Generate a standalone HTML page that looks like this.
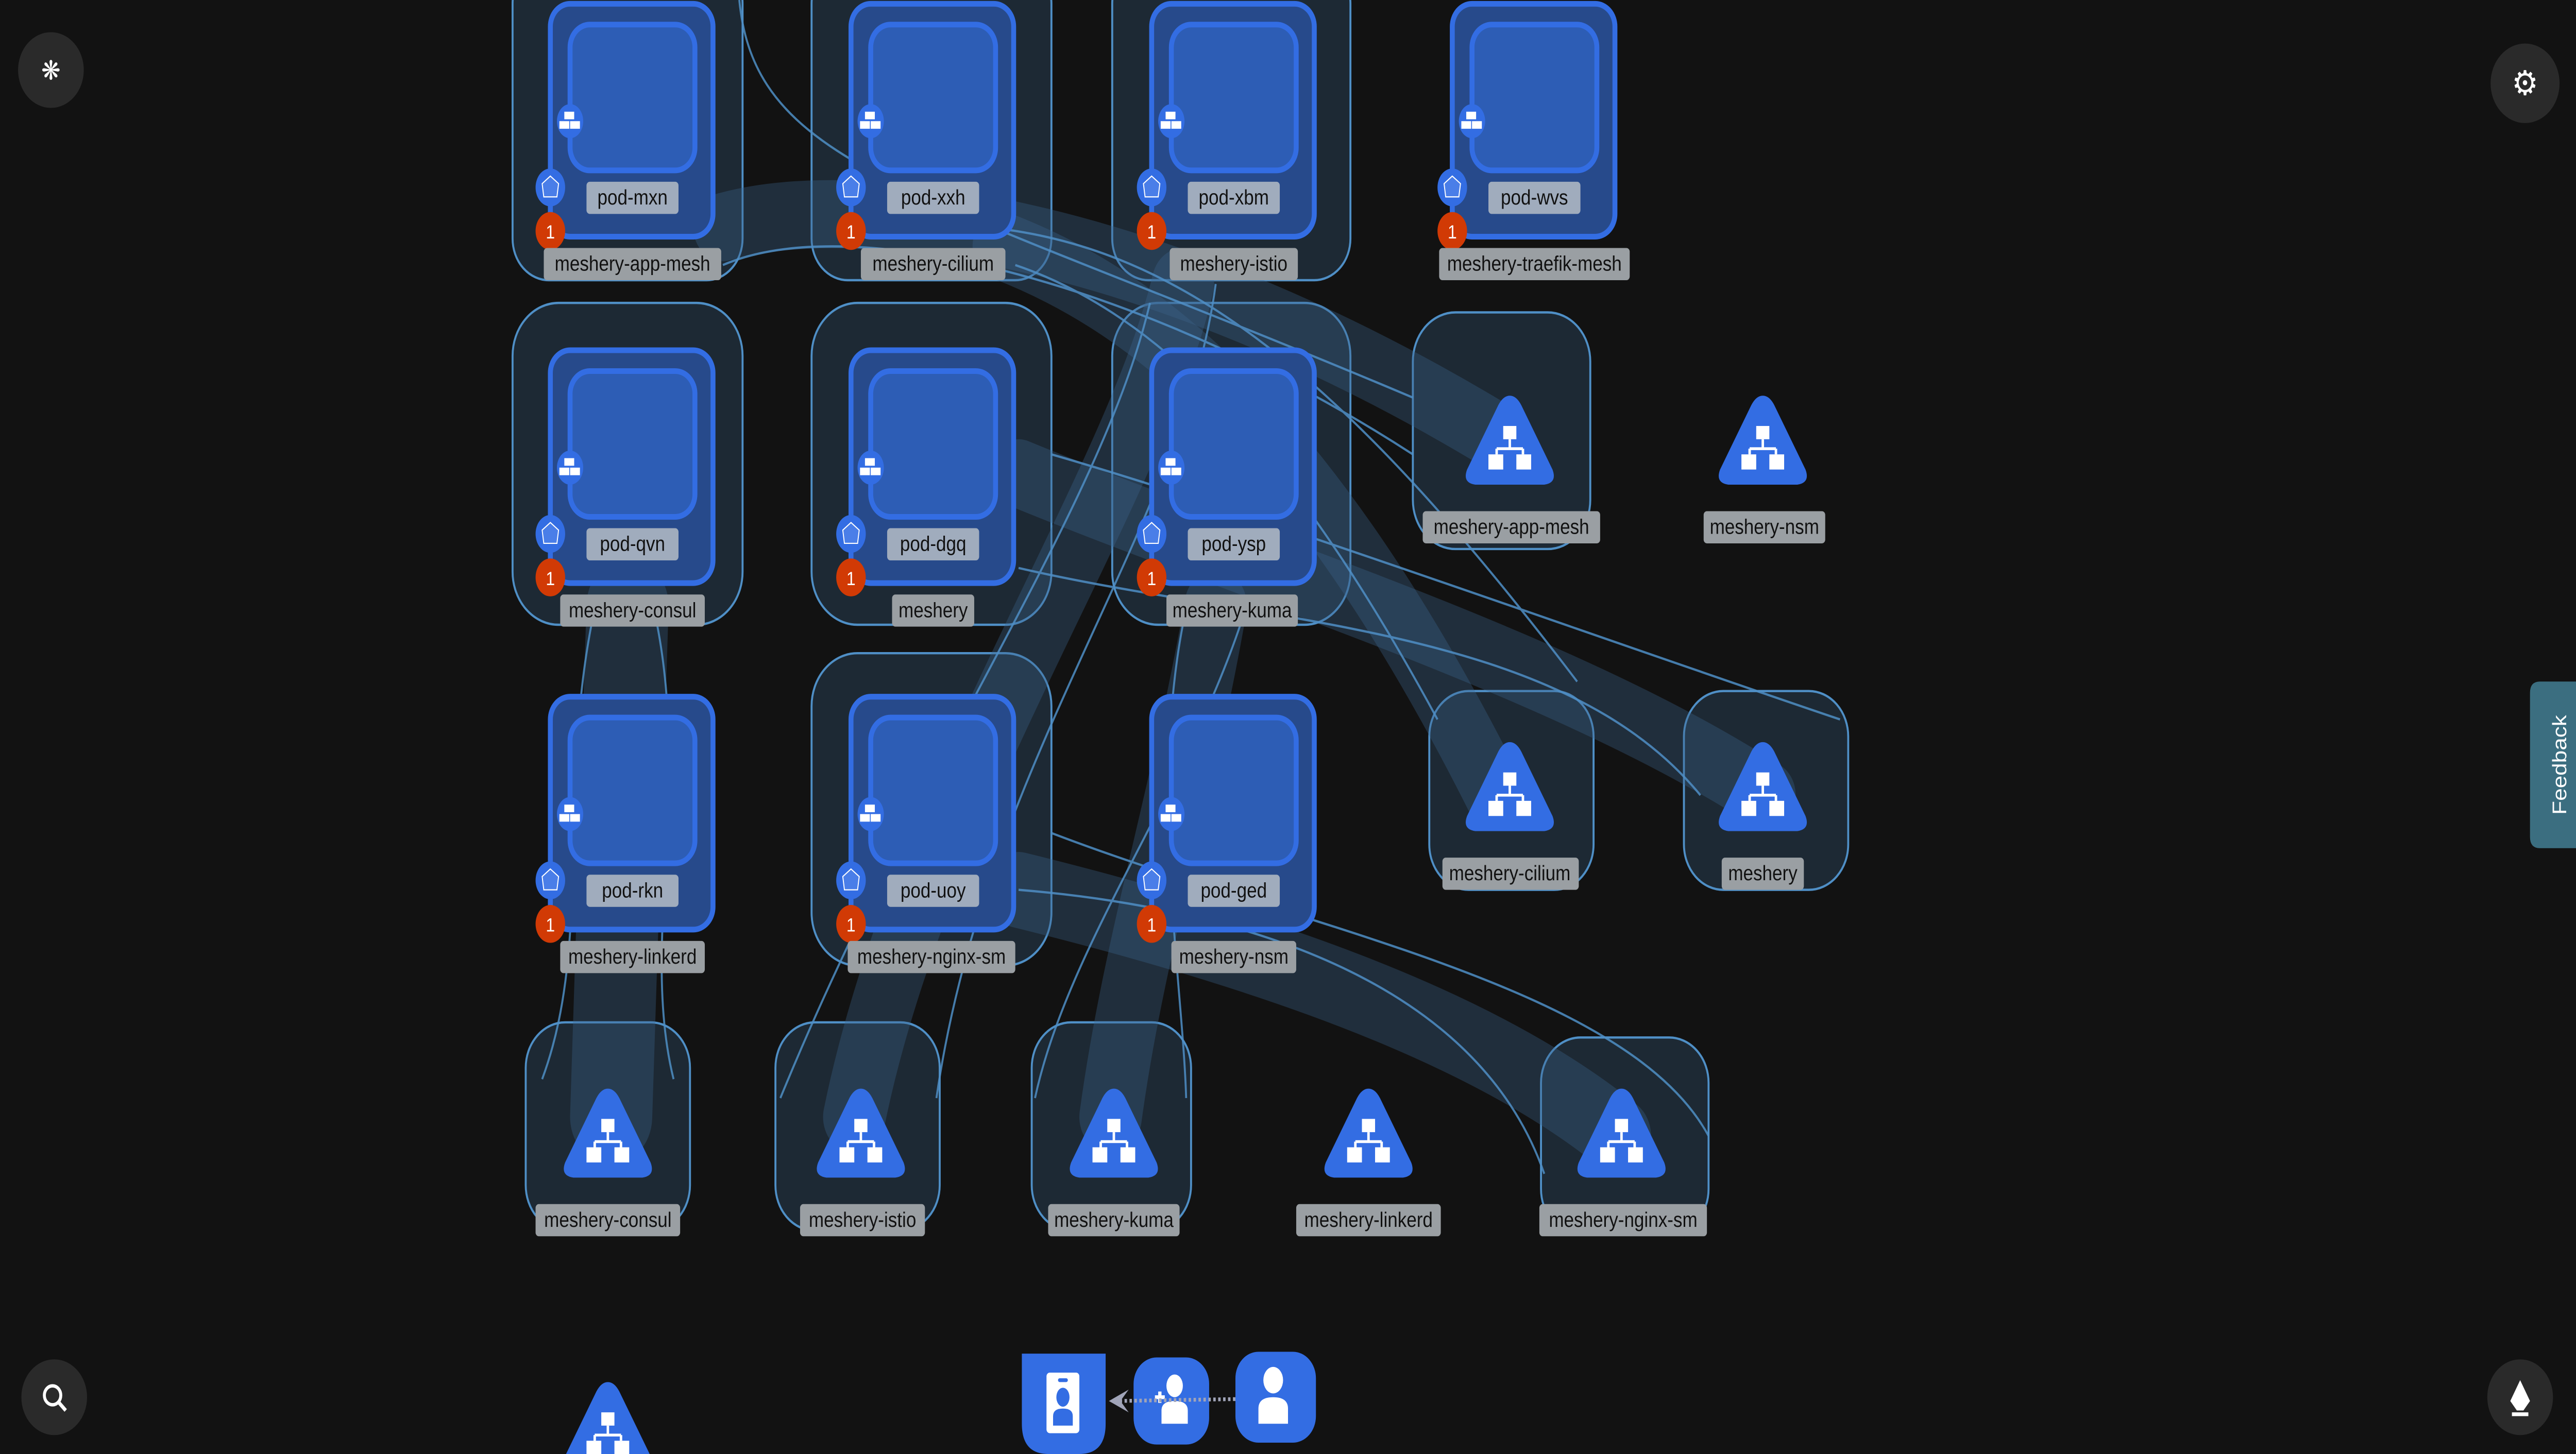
<!DOCTYPE html>
<html><head><meta charset="utf-8"><style>
html,body{margin:0;padding:0;background:#121212;overflow:hidden;width:100%;height:100%}
svg{display:block;position:fixed;left:0;top:0;width:100vw;height:100vh}
text{font-family:"Liberation Sans",sans-serif}
</style></head><body>
<svg viewBox="0 0 1568 768" preserveAspectRatio="none" xmlns="http://www.w3.org/2000/svg">
<defs>
<g id="pod">
  <rect x="0" y="0" width="99" height="123" rx="12" fill="#274a8b" stroke="#336de3" stroke-width="3"/>
  <rect x="12" y="11" width="76" height="77" rx="12" fill="#2d5db5" stroke="#336de3" stroke-width="3"/>
  <ellipse cx="12" cy="62" rx="8" ry="9" fill="#336de3"/>
  <rect x="8.5" y="57" width="6" height="4" fill="#fff"/><rect x="5.5" y="62" width="6" height="4" fill="#fff"/><rect x="12" y="62" width="6" height="4" fill="#fff"/>
  <ellipse cx="0" cy="97" rx="9" ry="10" fill="#336de3"/>
  <path d="M0 91 L5 95 L4 102 L-4 102 L-5 95 Z" fill="#4a7ee8" stroke="#fff" stroke-width="0.6"/>
  <ellipse cx="0" cy="120" rx="9" ry="10" fill="#d13a05"/>
  <text x="0" y="124" font-size="10" fill="#fff" text-anchor="middle">1</text>
</g>
<g id="svc">
  <path d="M0 -26 Q4 -26 7 -21 L26 13 Q29 20 21 21 L-21 21 Q-29 20 -26 13 L-7 -21 Q-4 -26 0 -26 Z" fill="#336de3"/>
  <rect x="-4" y="-10" width="8" height="7" fill="#fff"/>
  <path d="M0 -3 V2 M-8 2 H8 M-8 2 V5 M8 2 V5" stroke="#fff" stroke-width="1.5" fill="none"/>
  <rect x="-13" y="5" width="9" height="8" fill="#fff"/><rect x="4" y="5" width="9" height="8" fill="#fff"/>
</g>
</defs>
<rect width="1568" height="768" fill="#121212"/>
<g fill="rgba(44,70,96,0.45)" stroke="#4f8fc6" stroke-width="1.2">
  <rect x="312" y="-20" width="140" height="168" rx="22"/>
  <rect x="494" y="-20" width="146" height="168" rx="22"/>
  <rect x="677" y="-20" width="145" height="168" rx="22"/>
  <rect x="312" y="160" width="140" height="170" rx="28"/>
  <rect x="494" y="160" width="146" height="170" rx="28"/>
  <rect x="677" y="160" width="145" height="170" rx="28"/>
  <rect x="494" y="345" width="146" height="165" rx="28"/>
  <rect x="320" y="540" width="100" height="110" rx="24"/>
  <rect x="472" y="540" width="100" height="110" rx="24"/>
  <rect x="628" y="540" width="97" height="110" rx="24"/>
  <rect x="938" y="548" width="102" height="104" rx="24"/>
  <rect x="860" y="165" width="108" height="125" rx="26"/>
  <rect x="870" y="365" width="100" height="105" rx="24"/>
  <rect x="1025" y="365" width="100" height="105" rx="24"/>
</g>
<g fill="none" stroke="rgba(60,100,140,0.35)" stroke-linecap="round">
  <path d="M382 320 L372 590" stroke-width="50"/>
  <path d="M720 150 C690 260 560 420 520 590" stroke-width="38"/>
  <path d="M740 320 C720 420 690 500 676 590" stroke-width="38"/>
  <path d="M620 470 C760 500 900 540 985 600" stroke-width="40"/>
  <path d="M610 130 C700 160 800 230 910 420" stroke-width="36"/>
  <path d="M620 250 C760 300 950 350 1075 420" stroke-width="36"/>
  <path d="M440 120 C520 100 700 120 910 230" stroke-width="36"/>
</g>
<g fill="none" stroke="#4f8fc6" stroke-width="1.2" opacity="0.85">
  <path d="M440 140 C520 110 700 150 860 240"/>
  <path d="M450 0 C460 90 560 100 860 210"/>
  <path d="M618 140 C720 170 800 260 875 380"/>
  <path d="M600 120 C720 130 820 200 960 360"/>
  <path d="M620 300 C770 330 950 330 1035 420"/>
  <path d="M640 240 C760 270 950 330 1120 380"/>
  <path d="M700 160 C670 270 560 400 475 580"/>
  <path d="M740 150 C720 280 600 400 570 580"/>
  <path d="M755 330 C720 420 650 500 630 580"/>
  <path d="M720 330 C700 420 720 520 722 580"/>
  <path d="M620 470 C760 480 900 520 940 620"/>
  <path d="M640 440 C790 490 990 520 1040 600"/>
  <path d="M360 330 C340 420 360 500 330 570"/>
  <path d="M400 330 C420 420 390 500 410 570"/>
</g>
<use href="#pod" x="335" y="2"/><use href="#pod" x="518" y="2"/><use href="#pod" x="701" y="2"/><use href="#pod" x="884" y="2"/>
<use href="#pod" x="335" y="185"/><use href="#pod" x="518" y="185"/><use href="#pod" x="701" y="185"/>
<use href="#pod" x="335" y="368"/><use href="#pod" x="518" y="368"/><use href="#pod" x="701" y="368"/>
<use href="#svc" x="919" y="235"/><use href="#svc" x="1073" y="235"/>
<use href="#svc" x="919" y="418"/><use href="#svc" x="1073" y="418"/>
<use href="#svc" x="370" y="601"/><use href="#svc" x="524" y="601"/><use href="#svc" x="678" y="601"/><use href="#svc" x="833" y="601"/><use href="#svc" x="987" y="601"/>
<use href="#svc" x="370" y="756"/>
<g font-size="11" text-anchor="middle" fill="#111">
  <g fill="#a0acbd">
    <rect x="357" y="96" width="56" height="17" rx="2"/><rect x="540" y="96" width="56" height="17" rx="2"/><rect x="723" y="96" width="56" height="17" rx="2"/><rect x="906" y="96" width="56" height="17" rx="2"/>
    <rect x="357" y="279" width="56" height="17" rx="2"/><rect x="540" y="279" width="56" height="17" rx="2"/><rect x="723" y="279" width="56" height="17" rx="2"/>
    <rect x="357" y="462" width="56" height="17" rx="2"/><rect x="540" y="462" width="56" height="17" rx="2"/><rect x="723" y="462" width="56" height="17" rx="2"/>
  </g>
  <text x="385" y="108">pod-mxn</text><text x="568" y="108">pod-xxh</text><text x="751" y="108">pod-xbm</text><text x="934" y="108">pod-wvs</text>
  <text x="385" y="291">pod-qvn</text><text x="568" y="291">pod-dgq</text><text x="751" y="291">pod-ysp</text>
  <text x="385" y="474">pod-rkn</text><text x="568" y="474">pod-uoy</text><text x="751" y="474">pod-ged</text>
  <g fill="#9a9fa3">
    <rect x="331" y="131" width="108" height="17" rx="2"/><rect x="524" y="131" width="88" height="17" rx="2"/><rect x="712" y="131" width="78" height="17" rx="2"/><rect x="876" y="131" width="116" height="17" rx="2"/>
    <rect x="341" y="314" width="88" height="17" rx="2"/><rect x="543" y="314" width="50" height="17" rx="2"/><rect x="710" y="314" width="80" height="17" rx="2"/>
    <rect x="341" y="497" width="88" height="17" rx="2"/><rect x="516" y="497" width="102" height="17" rx="2"/><rect x="713" y="497" width="76" height="17" rx="2"/>
    <rect x="866" y="270" width="108" height="17" rx="2"/><rect x="1037" y="270" width="74" height="17" rx="2"/>
    <rect x="878" y="453" width="83" height="17" rx="2"/><rect x="1048" y="453" width="50" height="17" rx="2"/>
    <rect x="326" y="636" width="88" height="17" rx="2"/><rect x="487" y="636" width="76" height="17" rx="2"/><rect x="638" y="636" width="80" height="17" rx="2"/><rect x="789" y="636" width="88" height="17" rx="2"/><rect x="937" y="636" width="102" height="17" rx="2"/>
  </g>
  <text x="385" y="143">meshery-app-mesh</text><text x="568" y="143">meshery-cilium</text><text x="751" y="143">meshery-istio</text><text x="934" y="143">meshery-traefik-mesh</text>
  <text x="385" y="326">meshery-consul</text><text x="568" y="326">meshery</text><text x="750" y="326">meshery-kuma</text>
  <text x="385" y="509">meshery-linkerd</text><text x="567" y="509">meshery-nginx-sm</text><text x="751" y="509">meshery-nsm</text>
  <text x="920" y="282">meshery-app-mesh</text><text x="1074" y="282">meshery-nsm</text>
  <text x="919" y="465">meshery-cilium</text><text x="1073" y="465">meshery</text>
  <text x="370" y="648">meshery-consul</text><text x="525" y="648">meshery-istio</text><text x="678" y="648">meshery-kuma</text><text x="833" y="648">meshery-linkerd</text><text x="988" y="648">meshery-nginx-sm</text>
</g>
<path d="M622 715 H673 V752 Q673 768 657 768 H638 Q622 768 622 752 Z" fill="#336de3"/>
<rect x="637" y="725" width="20" height="32" rx="2" fill="#fff"/>
<rect x="644" y="728" width="6" height="2" rx="1" fill="#336de3"/>
<ellipse cx="647" cy="738" rx="4" ry="5" fill="#336de3"/>
<path d="M641 753 V748 Q641 744 647 744 Q653 744 653 748 V753 Z" fill="#336de3"/>
<rect x="690" y="717" width="46" height="46" rx="14" fill="#336de3"/>
<rect x="752" y="714" width="49" height="48" rx="14" fill="#336de3"/>
<g fill="#fff">
  <ellipse cx="715" cy="732" rx="5" ry="6"/><path d="M707 752 V745 Q707 740 715 740 Q723 740 723 745 V752 Z"/>
  <rect x="703" y="737" width="6" height="2"/><rect x="705" y="735" width="2" height="6"/>
  <ellipse cx="775" cy="729" rx="6" ry="7"/><path d="M766 752 V744 Q766 738 775 738 Q784 738 784 744 V752 Z"/>
</g>
<line x1="752" y1="739" x2="680" y2="740" stroke="#a0a4b8" stroke-width="2" stroke-dasharray="1.5,1.5"/>
<path d="M675 740 L687 734 L682 740 L687 746 Z" fill="#a0a4b8"/>
<circle cx="31" cy="37" r="20" fill="#2a2a2a"/>
<text x="31" y="42" font-size="14" fill="#fff" text-anchor="middle">❋</text>
<circle cx="1537" cy="44" r="21" fill="#2a2a2a"/>
<text x="1537" y="50" font-size="18" fill="#fff" text-anchor="middle">⚙</text>
<circle cx="33" cy="738" r="20" fill="#2a2a2a"/>
<circle cx="32" cy="737" r="5" fill="none" stroke="#fff" stroke-width="1.8"/><line x1="36" y1="741" x2="40" y2="745" stroke="#fff" stroke-width="2"/>
<circle cx="1534" cy="738" r="20" fill="#2a2a2a"/>
<path d="M1534 729 L1540 740 L1536 745 H1532 L1528 740 Z" fill="#fff"/><rect x="1529" y="746" width="10" height="2" fill="#fff"/>
<path d="M1568 360 H1546 Q1540 360 1540 366 V442 Q1540 448 1546 448 H1568 Z" fill="#3b6e80"/>
<text x="0" y="0" font-size="12" fill="#fff" text-anchor="middle" transform="translate(1562 404) rotate(-90)">Feedback</text>
</svg>
</body></html>
